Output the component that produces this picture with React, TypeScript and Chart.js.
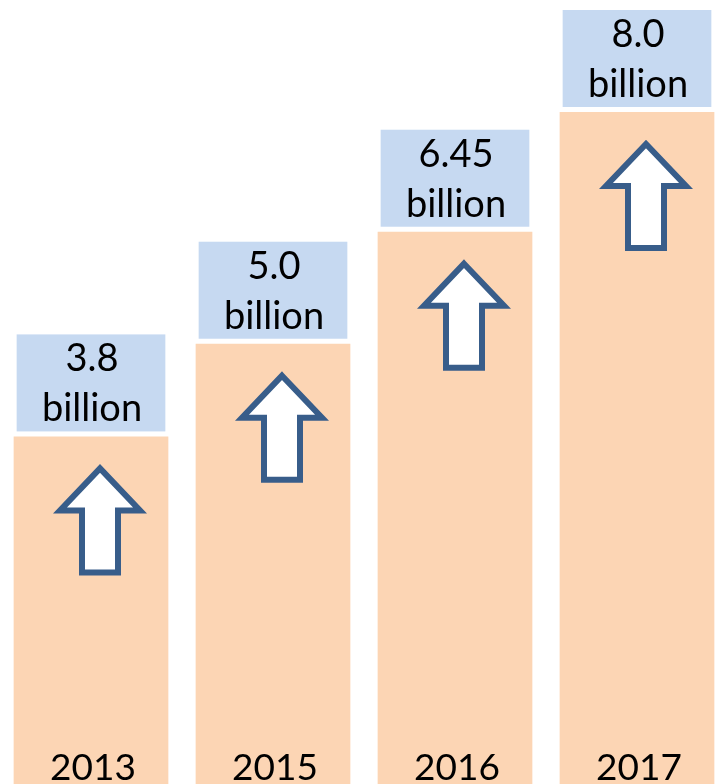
import React, { useEffect, useRef } from "react";
import { Chart, registerables } from "chart.js";

Chart.register(...registerables);

const years = ["2013", "2015", "2016", "2017"];
const values = [3.8, 5.0, 6.45, 8.0];
const valueLabels = ["3.8", "5.0", "6.45", "8.0"];
const unitLabel = "billion";

const Y_MIN = -0.7;
const Y_MAX = 9.45;

const BAR_COLOR = "#FCD5B4";
const BOX_COLOR = "#C6D9F1";
const ARROW_LINE = "#385D8A";
const FONT = "Lato, 'Open Sans', sans-serif";

const overlayPlugin = {
  id: "overlay",
  afterDatasetsDraw(chart: any) {
    const ctx = chart.ctx;
    const meta = chart.getDatasetMeta(0);
    meta.data.forEach((bar: any, i: number) => {
      const { x, y, width, base } = bar.getProps(["x", "y", "width", "base"], true);
      const left = x - width / 2;
      const right = x + width / 2;
      // label box
      const boxH = 97;
      const boxBottom = y - 5;
      const boxTop = boxBottom - boxH;
      ctx.save();
      ctx.fillStyle = BOX_COLOR;
      ctx.fillRect(left + 3, boxTop, right - left - 6, boxH);
      ctx.fillStyle = "#000";
      ctx.textAlign = "center";
      ctx.textBaseline = "alphabetic";
      ctx.font = `38px ${FONT}`;
      const cx = x + 1;
      ctx.fillText(valueLabels[i], cx, boxTop + 37);
      ctx.fillText(unitLabel, cx, boxTop + 87);
      // year label
      ctx.font = `37px ${FONT}`;
      ctx.fillText(years[i], x + 2, base - 4);
      // arrow
      const ax = x + 9;
      const top = y + 32;
      const headHalf = 40;
      const shaftHalf = 18;
      const headH = 42;
      const totalH = 104;
      ctx.beginPath();
      ctx.moveTo(ax, top);
      ctx.lineTo(ax + headHalf, top + headH);
      ctx.lineTo(ax + shaftHalf, top + headH);
      ctx.lineTo(ax + shaftHalf, top + totalH);
      ctx.lineTo(ax - shaftHalf, top + totalH);
      ctx.lineTo(ax - shaftHalf, top + headH);
      ctx.lineTo(ax - headHalf, top + headH);
      ctx.closePath();
      ctx.fillStyle = "#FFFFFF";
      ctx.fill();
      ctx.lineWidth = 6;
      ctx.lineJoin = "miter";
      ctx.strokeStyle = ARROW_LINE;
      ctx.stroke();
      ctx.restore();
    });
  },
};

export default function App() {
  const canvasRef = useRef<HTMLCanvasElement | null>(null);

  useEffect(() => {
    if (!canvasRef.current) return;
    const chart = new Chart(canvasRef.current, {
      type: "bar",
      data: {
        labels: years,
        datasets: [
          {
            data: values,
            backgroundColor: BAR_COLOR,
            borderWidth: 0,
            base: Y_MIN,
            categoryPercentage: 1,
            barPercentage: 0.85,
          } as any,
        ],
      },
      options: {
        responsive: false,
        animation: false,
        devicePixelRatio: 1,
        layout: { padding: 0 },
        plugins: {
          legend: { display: false },
          tooltip: { enabled: false },
        },
        scales: {
          x: { display: false, offset: true, grid: { display: false } },
          y: { display: false, min: Y_MIN, max: Y_MAX, grid: { display: false } },
        },
      },
      plugins: [overlayPlugin],
    });
    return () => chart.destroy();
  }, []);

  return (
    <div
      style={{
        position: "absolute",
        left: 0,
        top: 0,
        width: 716,
        height: 784,
        overflow: "hidden",
        background: "#fff",
      }}
    >
      <canvas ref={canvasRef} width={728} height={784} style={{ display: "block" }} />
    </div>
  );
}
